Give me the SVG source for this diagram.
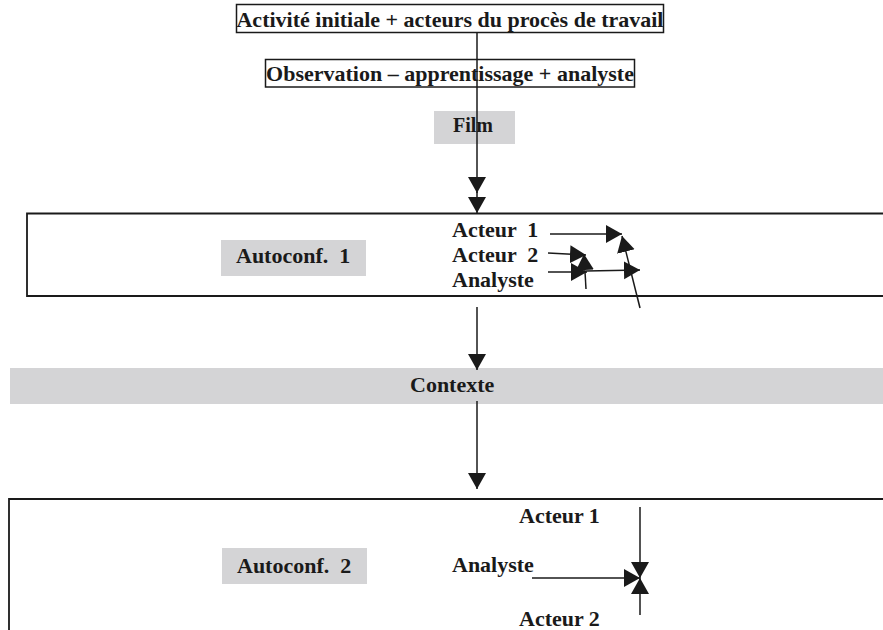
<svg xmlns="http://www.w3.org/2000/svg" width="883" height="630" viewBox="0 0 883 630">
<style>
text{font-family:'Liberation Serif','DejaVu Serif',serif;font-weight:700;font-size:22px;fill:#1a1a1a;white-space:pre}
.box{fill:#fff;stroke:#1a1a1a;stroke-width:1.5}
.open{fill:none;stroke:#1a1a1a;stroke-width:1.8}
.gray{fill:#d4d4d6;stroke:none}
.c{stroke:#1a1a1a;stroke-width:1.5;fill:none;marker-end:url(#ah)}
</style>
<defs>
<marker id="ah" markerUnits="userSpaceOnUse" markerWidth="17" markerHeight="19" refX="16" refY="9" orient="auto" viewBox="0 0 17 19">
<path d="M0,0 L16,9 L0,18 z" fill="#1a1a1a"/>
</marker>
</defs>
<rect width="883" height="630" fill="#fff"/>
<g id="n-activite">
<rect class="box" x="236.5" y="4.5" width="427" height="28"/>
<text x="450" y="27" text-anchor="middle" font-family="Liberation Serif, serif">Activité initiale + acteurs du procès de travail</text>
</g>
<g id="n-observation">
<rect class="box" x="265.5" y="59.5" width="369" height="27.5"/>
<text x="450" y="81" text-anchor="middle">Observation – apprentissage + analyste</text>
</g>
<g id="n-film">
<rect class="gray" x="434" y="111" width="81" height="33"/>
<text x="473" y="132" text-anchor="middle" style="font-size:20px">Film</text>
</g>
<g id="n-autoconf1">
<path class="open" d="M884,213.5 H27 V296 H884"/>
<rect class="gray" x="221" y="240" width="145" height="36"/>
<text x="236" y="263">Autoconf.  1</text>
<text x="452" y="237">Acteur  1</text>
<text x="452" y="262">Acteur  2</text>
<text x="452" y="287">Analyste</text>
</g>
<g id="n-contexte">
<rect class="gray" x="10" y="368" width="873" height="36"/>
<text x="410" y="392">Contexte</text>
</g>
<g id="n-autoconf2">
<path class="open" d="M884,499 H9 V631"/>
<rect class="gray" x="222" y="548" width="145" height="36"/>
<text x="237" y="573">Autoconf.  2</text>
<text x="519" y="523">Acteur 1</text>
<text x="452" y="572">Analyste</text>
<text x="519" y="626">Acteur 2</text>
</g>
<g id="connectors">
<line class="c" x1="477" y1="33" x2="477" y2="193"/>
<line class="c" x1="477" y1="192" x2="477" y2="213"/>
<line class="c" x1="550" y1="234" x2="622" y2="234"/>
<line class="c" x1="640" y1="308" x2="622" y2="236"/>
<line class="c" x1="548" y1="253" x2="586" y2="255"/>
<line class="c" x1="548" y1="272" x2="587" y2="272"/>
<line class="c" x1="586" y1="271" x2="640" y2="270"/>
<line class="c" x1="586" y1="289" x2="584" y2="254"/>
<line class="c" x1="477" y1="307" x2="477" y2="370"/>
<line class="c" x1="477" y1="401" x2="477" y2="489"/>
<line class="c" x1="640" y1="507" x2="640" y2="578"/>
<line class="c" x1="532" y1="578" x2="640" y2="578"/>
<line class="c" x1="640" y1="615" x2="640" y2="578"/>
</g>
</svg>
